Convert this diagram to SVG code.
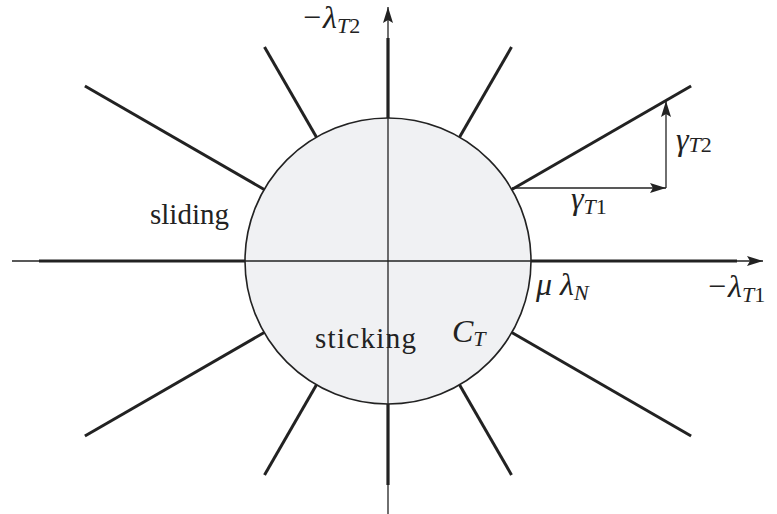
<svg xmlns="http://www.w3.org/2000/svg" width="777" height="514" viewBox="0 0 777 514">
<style>
.thin{stroke:#222;stroke-width:1.3;fill:none}
.thick{stroke:#222;stroke-width:3.2;fill:none;stroke-linecap:butt}
.ray{stroke:#222;stroke-width:3;fill:none}
</style>
<defs>
<marker id="ah" viewBox="0 0 16 10" refX="16" refY="5" markerWidth="16" markerHeight="10" markerUnits="userSpaceOnUse" orient="auto">
<path d="M0,0 L16,5 L0,10 L3,5 Z" fill="#222"/>
</marker>
</defs>
<rect width="777" height="514" fill="#fff"/>
<g id="circle">
<circle cx="388" cy="261" r="143" fill="#f0f1f3" stroke="#222" stroke-width="1.6"/>
</g>
<g id="connectors">
<line class="thin" x1="12" y1="261" x2="763" y2="261" marker-end="url(#ah)"/>
<line class="thin" x1="388" y1="514" x2="388" y2="7" marker-end="url(#ah)"/>
<line class="thick" x1="39" y1="261" x2="245" y2="261"/>
<line class="thick" x1="531" y1="261" x2="737" y2="261"/>
<line class="thick" x1="388" y1="38" x2="388" y2="118"/>
<line class="thick" x1="388" y1="404" x2="388" y2="485"/>
<line class="ray" x1="511.8" y1="189.5" x2="691.1" y2="86"/>
<line class="ray" x1="264.2" y1="189.5" x2="84.9" y2="86"/>
<line class="ray" x1="511.8" y1="332.5" x2="691.1" y2="436"/>
<line class="ray" x1="264.2" y1="332.5" x2="84.9" y2="436"/>
<line class="ray" x1="459.5" y1="137.2" x2="511.5" y2="47.1"/>
<line class="ray" x1="316.5" y1="137.2" x2="264.5" y2="47.1"/>
<line class="ray" x1="459.5" y1="384.8" x2="511.5" y2="474.9"/>
<line class="ray" x1="316.5" y1="384.8" x2="264.5" y2="474.9"/>
<line class="thin" x1="512" y1="188" x2="666" y2="188" marker-end="url(#ah)"/>
<line class="thin" x1="666" y1="188" x2="666" y2="101" marker-end="url(#ah)"/>
</g>
<g id="labels" font-family="Liberation Serif, DejaVu Serif, serif" fill="#222" font-size="29">
<text x="303" y="28" font-size="32" font-style="italic"><tspan font-style="normal">−</tspan><tspan dx="2">λ</tspan><tspan font-size="22" dy="5">T</tspan><tspan font-size="22" font-style="normal">2</tspan></text>
<text x="708" y="297" font-size="32" font-style="italic"><tspan font-style="normal">−</tspan><tspan dx="2">λ</tspan><tspan font-size="22" dy="5">T</tspan><tspan font-size="22" font-style="normal">1</tspan></text>
<text x="536" y="295" font-size="32" font-style="italic">μ λ<tspan font-size="22" dy="5">N</tspan></text>
<text x="676" y="150" font-size="32" font-style="italic">γ<tspan font-size="22" dy="2">T</tspan><tspan font-size="22" font-style="normal">2</tspan></text>
<text x="571" y="209" font-size="32" font-style="italic">γ<tspan font-size="22" dy="5">T</tspan><tspan font-size="22" font-style="normal">1</tspan></text>
<text x="150" y="224">sliding</text>
<text x="315" y="348" textLength="101" lengthAdjust="spacing">sticking</text>
<text x="452" y="342" font-size="32" font-style="italic">C<tspan font-size="22" dy="4">T</tspan></text>
</g>
</svg>
